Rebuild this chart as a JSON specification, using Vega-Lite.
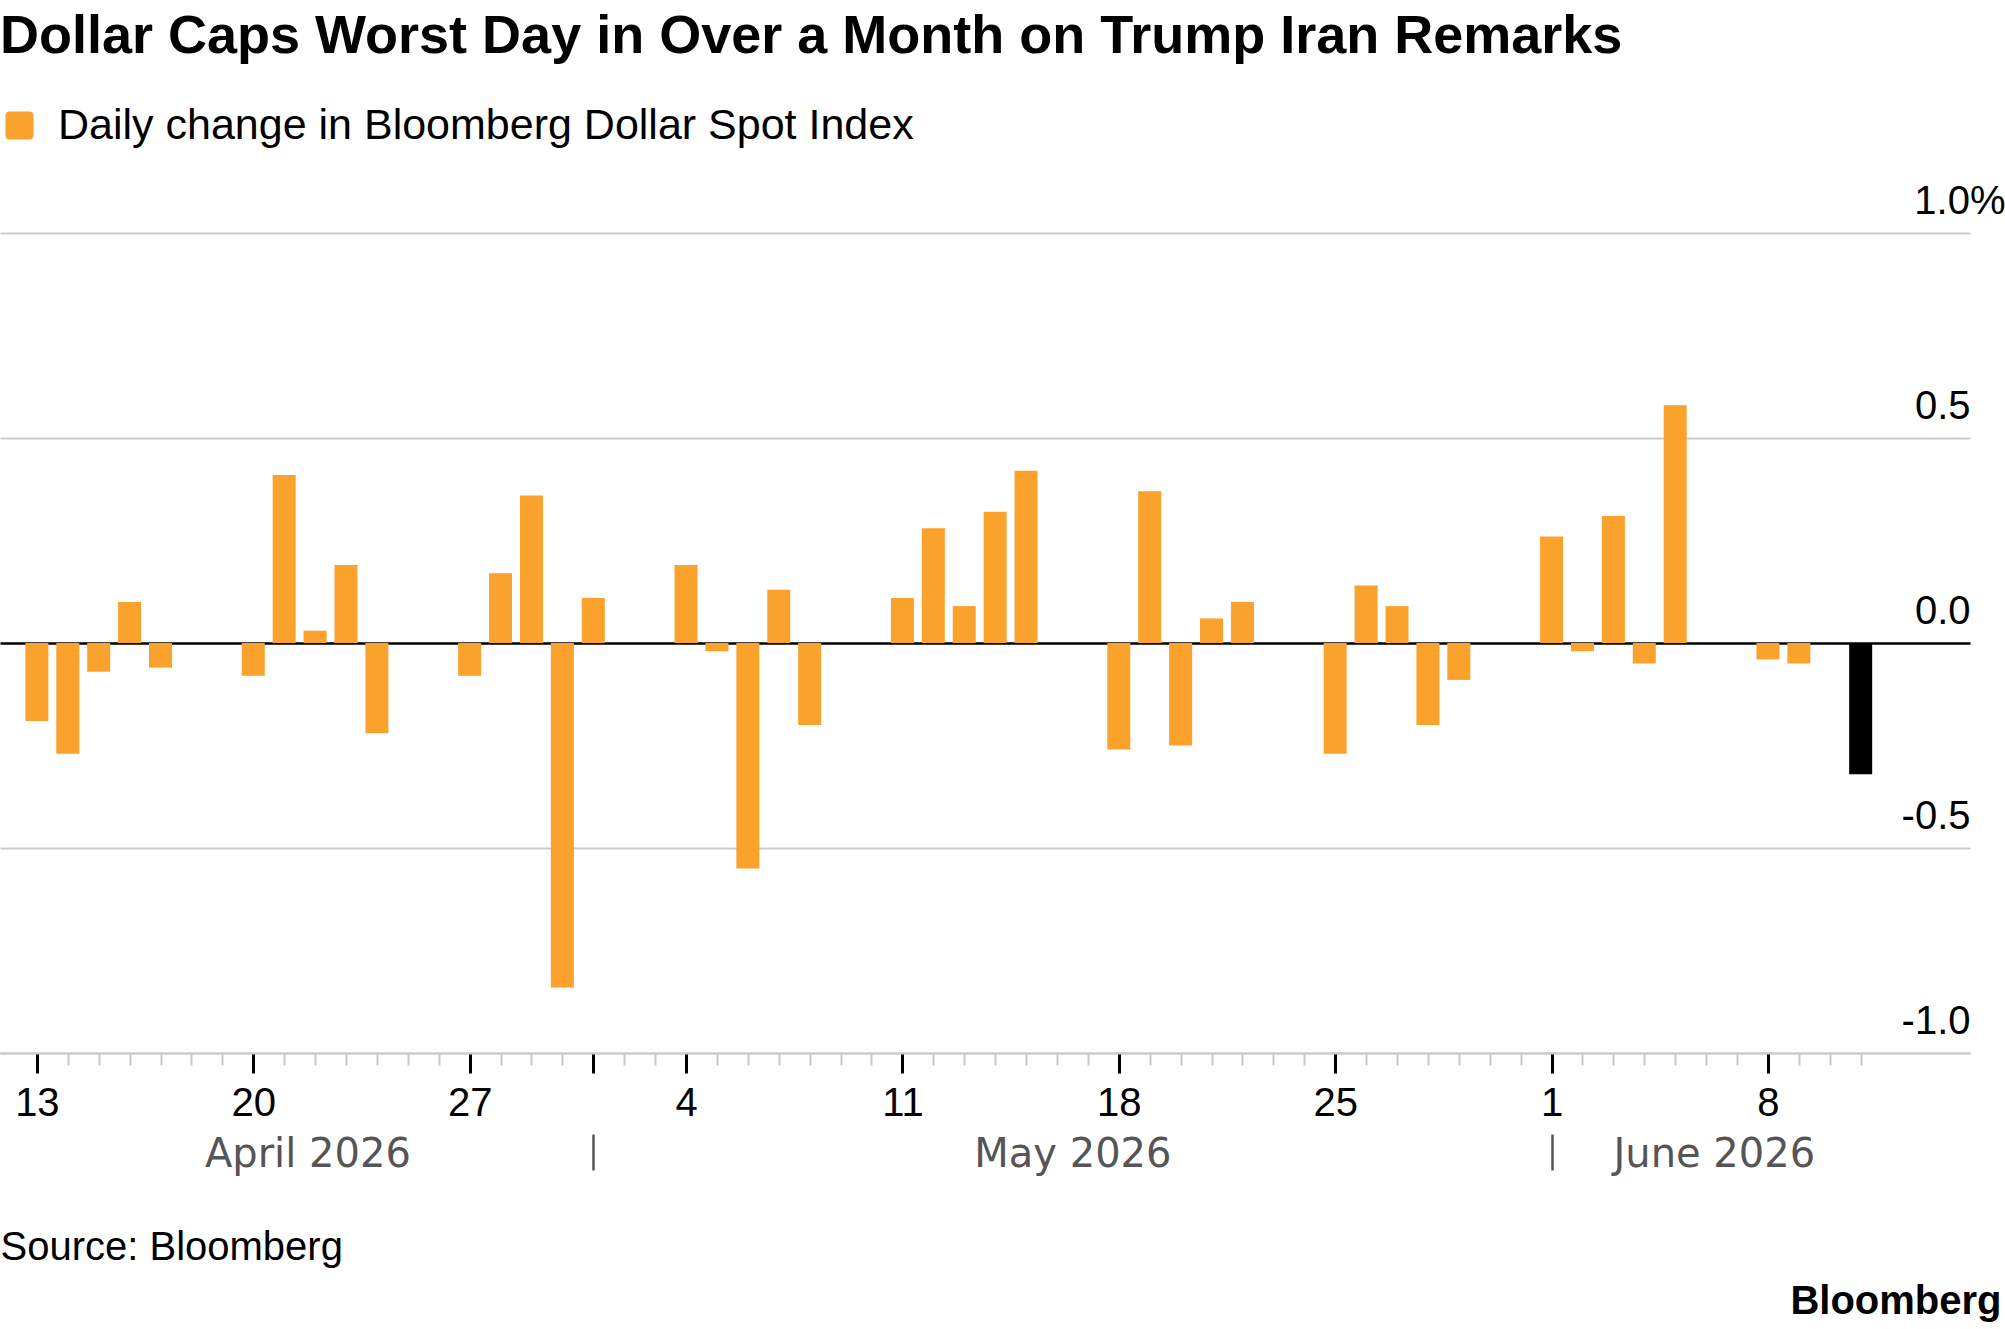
{
  "$schema": "https://vega.github.io/schema/vega-lite/v6.json",
  "autosize": {"type": "none"},
  "width": 1970,
  "height": 820,
  "padding": {"left": 0, "top": 233, "right": 35, "bottom": 276},
  "background": "white",
  "title": {
    "text": "Dollar Caps Worst Day in Over a Month on Trump Iran Remarks",
    "anchor": "start",
    "frame": "group",
    "font": "Liberation Sans",
    "fontSize": 54,
    "fontWeight": "bold",
    "color": "#000000",
    "baseline": "alphabetic",
    "offset": -3
  },
  "config": {"view": {"stroke": null}, "font": "Liberation Sans"},
  "data": {
    "values": [
      {"date": "2026-04-13", "change": -0.19},
      {"date": "2026-04-14", "change": -0.27},
      {"date": "2026-04-15", "change": -0.07},
      {"date": "2026-04-16", "change": 0.10},
      {"date": "2026-04-17", "change": -0.06},
      {"date": "2026-04-20", "change": -0.08},
      {"date": "2026-04-21", "change": 0.41},
      {"date": "2026-04-22", "change": 0.03},
      {"date": "2026-04-23", "change": 0.19},
      {"date": "2026-04-24", "change": -0.22},
      {"date": "2026-04-27", "change": -0.08},
      {"date": "2026-04-28", "change": 0.17},
      {"date": "2026-04-29", "change": 0.36},
      {"date": "2026-04-30", "change": -0.84},
      {"date": "2026-05-01", "change": 0.11},
      {"date": "2026-05-04", "change": 0.19},
      {"date": "2026-05-05", "change": -0.02},
      {"date": "2026-05-06", "change": -0.55},
      {"date": "2026-05-07", "change": 0.13},
      {"date": "2026-05-08", "change": -0.20},
      {"date": "2026-05-11", "change": 0.11},
      {"date": "2026-05-12", "change": 0.28},
      {"date": "2026-05-13", "change": 0.09},
      {"date": "2026-05-14", "change": 0.32},
      {"date": "2026-05-15", "change": 0.42},
      {"date": "2026-05-18", "change": -0.26},
      {"date": "2026-05-19", "change": 0.37},
      {"date": "2026-05-20", "change": -0.25},
      {"date": "2026-05-21", "change": 0.06},
      {"date": "2026-05-22", "change": 0.10},
      {"date": "2026-05-25", "change": -0.27},
      {"date": "2026-05-26", "change": 0.14},
      {"date": "2026-05-27", "change": 0.09},
      {"date": "2026-05-28", "change": -0.20},
      {"date": "2026-05-29", "change": -0.09},
      {"date": "2026-06-01", "change": 0.26},
      {"date": "2026-06-02", "change": -0.02},
      {"date": "2026-06-03", "change": 0.31},
      {"date": "2026-06-04", "change": -0.05},
      {"date": "2026-06-05", "change": 0.58},
      {"date": "2026-06-08", "change": -0.04},
      {"date": "2026-06-09", "change": -0.05},
      {"date": "2026-06-11", "change": -0.32}
    ]
  },
  "layer": [
    {
      "transform": [{"filter": {"field": "date", "lt": {"year": 2026, "month": 6, "date": 11, "utc": true}}}],
      "mark": {"type": "bar", "size": 23},
      "encoding": {
        "x": {
          "field": "date",
          "type": "temporal",
          "scale": {
            "type": "utc",
            "domain": [
              {"year": 2026, "month": 4, "date": 11, "hours": 23, "minutes": 15, "utc": true},
              {"year": 2026, "month": 6, "date": 14, "hours": 9, "utc": true}
            ]
          },
          "axis": {
            "orient": "bottom",
            "title": null,
            "grid": false,
            "tickCount": {"interval": "day", "step": 1},
            "domain": true,
            "domainColor": "#cccccc",
            "domainWidth": 2,
            "ticks": true,
            "tickColor": {"condition": {"test": "utcday(datum.value) == 1 || utcdate(datum.value) == 1", "value": "#000000"}, "value": "#c8c8c8"},
            "tickSize": {"condition": {"test": "utcday(datum.value) == 1 || utcdate(datum.value) == 1", "value": 20}, "value": 12},
            "tickWidth": {"condition": {"test": "utcday(datum.value) == 1 || utcdate(datum.value) == 1", "value": 3}, "value": 2},
            "tickOpacity": {"condition": {"test": "time(datum.value) >= utc(2026, 3, 13) && time(datum.value) <= utc(2026, 5, 11)", "value": 1}, "value": 0},
            "labelExpr": "utcday(datum.value) == 1 && time(datum.value) <= utc(2026, 5, 11) ? '' + utcdate(datum.value) : ''",
            "labelFont": "Liberation Sans",
            "labelFontSize": 40,
            "labelColor": "#000000",
            "labelBaseline": "alphabetic",
            "labelPadding": 42,
            "labelFlush": false,
            "labelOverlap": false,
            "labelBound": false
          }
        },
        "y": {
          "field": "change",
          "type": "quantitative",
          "scale": {"domain": [-1, 1]},
          "axis": {
            "orient": "right",
            "values": [-1, -0.5, 0, 0.5, 1],
            "labelExpr": "datum.value == 1 ? '1.0%' : (datum.value < 0 ? '-' : '') + format(abs(datum.value), '.1f')",
            "labelAlign": "right",
            "labelBaseline": "alphabetic",
            "labelOffset": -20,
            "labelPadding": {"condition": {"test": "datum.value == 1", "value": 35}, "value": 0},
            "ticks": false,
            "domain": false,
            "grid": true,
            "gridColor": {"condition": {"test": "datum.value == 0", "value": "#000000"}, "value": "#cccccc"},
            "gridWidth": {"condition": {"test": "datum.value == 0", "value": 2.5}, "value": 2},
            "labelFont": "Liberation Sans",
            "labelFontSize": 40,
            "labelColor": "#000000",
            "labelFlush": false,
            "labelOverlap": false,
            "labelBound": false,
            "title": "Bloomberg",
            "titleAngle": 0,
            "titleX": 31,
            "titleY": 1080,
            "titleAlign": "right",
            "titleBaseline": "alphabetic",
            "titleFont": "Liberation Sans",
            "titleFontSize": 40,
            "titleFontWeight": "bold",
            "titleColor": "#000000"
          }
        },
        "color": {
          "datum": "Daily change in Bloomberg Dollar Spot Index",
          "scale": {"range": ["#FAA22C"]},
          "legend": {
            "orient": "none",
            "legendX": -2,
            "legendY": -129,
            "title": null,
            "padding": 0,
            "symbolType": "M-0.7,-1H0.7Q1,-1 1,-0.7V0.7Q1,1 0.7,1H-0.7Q-1,1 -1,0.7V-0.7Q-1,-1 -0.7,-1Z",
            "symbolSize": 784,
            "symbolStrokeWidth": 0,
            "labelFont": "Liberation Sans",
            "labelFontSize": 43,
            "labelColor": "#000000",
            "labelOffset": 17,
            "labelLimit": 1500
          }
        }
      }
    },
    {
      "transform": [{"filter": {"field": "date", "gte": {"year": 2026, "month": 6, "date": 11, "utc": true}}}],
      "mark": {"type": "bar", "size": 23, "color": "#000000"},
      "encoding": {
        "x": {
          "field": "date",
          "type": "temporal",
          "axis": {
            "orient": "bottom",
            "title": "Source: Bloomberg",
            "titleX": 0,
            "titleY": 125,
            "titleAlign": "left",
            "titleBaseline": "alphabetic",
            "titleFont": "Liberation Sans",
            "titleFontSize": 40,
            "titleFontWeight": "normal",
            "titleColor": "#000000",
            "grid": false,
            "domain": false,
            "offset": 81,
            "values": [
              {"year": 2026, "month": 4, "date": 21, "hours": 18, "utc": true},
              {"year": 2026, "month": 5, "date": 1, "utc": true},
              {"year": 2026, "month": 5, "date": 16, "hours": 12, "utc": true},
              {"year": 2026, "month": 6, "date": 1, "utc": true},
              {"year": 2026, "month": 6, "date": 6, "hours": 6, "utc": true}
            ],
            "ticks": true,
            "tickSize": 36,
            "tickColor": "#555555",
            "tickWidth": 2.5,
            "tickOpacity": {"condition": {"test": "utcdate(datum.value) == 1", "value": 1}, "value": 0},
            "labelExpr": "utcdate(datum.value) == 1 ? '' : utcFormat(datum.value, '%B %Y')",
            "labelFont": "DejaVu Sans",
            "labelFontSize": 40,
            "labelColor": "#555555",
            "labelBaseline": "alphabetic",
            "labelPadding": -4,
            "labelLimit": 600,
            "labelFlush": false,
            "labelOverlap": false,
            "labelBound": false
          }
        },
        "y": {"field": "change", "type": "quantitative"}
      }
    }
  ],
  "resolve": {"axis": {"x": "independent"}}
}
